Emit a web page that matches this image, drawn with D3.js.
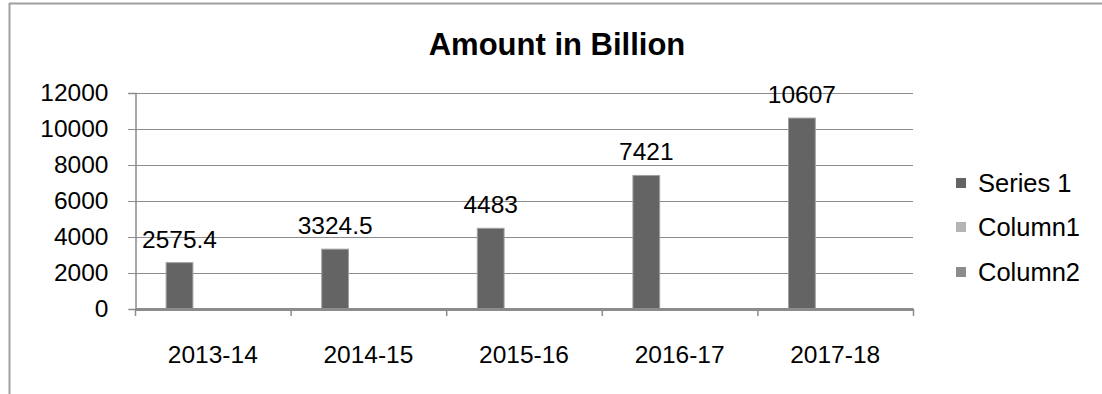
<!DOCTYPE html>
<html>
<head>
<meta charset="utf-8">
<script src="https://cdn.jsdelivr.net/npm/d3@7"></script>
<style>
  html, body { margin: 0; padding: 0; background: #fff; }
  svg { display: block; font-family: "Liberation Sans", Arial, sans-serif; }
</style>
</head>
<body>
<svg id="chart" width="1102" height="394"></svg>
<script>
// Chart data
const categories = ["2013-14", "2014-15", "2015-16", "2016-17", "2017-18"];
const series1 = [2575.4, 3324.5, 4483, 7421, 10607];
const legendNames = ["Series 1", "Column1", "Column2"];
const legendColors = ["#646464", "#b4b4b4", "#8c8c8c"];
const yTicks = [0, 2000, 4000, 6000, 8000, 10000, 12000];

const svg = d3.select("#chart");

// Outer frame (top and left edges visible)
svg.append("line").attr("x1", 9).attr("x2", 1102).attr("y1", 3.5).attr("y2", 3.5)
  .attr("stroke", "#a0a0a0").attr("stroke-width", 2);
svg.append("line").attr("x1", 9.5).attr("x2", 9.5).attr("y1", 3).attr("y2", 394)
  .attr("stroke", "#a0a0a0").attr("stroke-width", 2);

// Title
svg.append("text").attr("x", 557).attr("y", 55).attr("text-anchor", "middle")
  .attr("font-size", 31).attr("font-weight", "bold").attr("fill", "#000")
  .text("Amount in Billion");

const plot = { left: 135, right: 913, top: 93, bottom: 309 };

const x = d3.scaleBand().domain(categories).range([plot.left, plot.right]).padding(0);
const y = d3.scaleLinear().domain([0, 12000]).range([plot.bottom, plot.top]);

// Gridlines
svg.append("g").selectAll("line").data(yTicks.filter(d => d > 0)).join("line")
  .attr("x1", plot.left - 7).attr("x2", plot.right)
  .attr("y1", d => Math.round(y(d)) + 0.5).attr("y2", d => Math.round(y(d)) + 0.5)
  .attr("stroke", "#8c8c8c").attr("stroke-width", 1);

// Y axis
const yAxis = d3.axisLeft(y).tickValues(yTicks).tickFormat(d3.format("d")).tickSize(7).tickPadding(20);
const gy = svg.append("g").attr("transform", `translate(${plot.left + 0.5},0)`).call(yAxis);
gy.select(".domain").attr("stroke", "#8c8c8c").attr("stroke-width", 1.5);
gy.selectAll(".tick line").attr("stroke", "#8c8c8c");
gy.selectAll(".tick text").attr("font-size", 24.5).attr("fill", "#000")
  .attr("font-family", "'Liberation Sans', Arial, sans-serif");

// Bars
svg.append("g").selectAll("rect").data(series1).join("rect")
  .attr("x", (d, i) => x(categories[i]) + x.bandwidth() * 0.2)
  .attr("width", x.bandwidth() * 0.172)
  .attr("y", d => y(d))
  .attr("height", d => plot.bottom - y(d))
  .attr("fill", "#646464").attr("stroke", "#a0a0a0").attr("stroke-width", 1);

// Data labels
svg.append("g").selectAll("text").data(series1).join("text")
  .attr("x", (d, i) => x(categories[i]) + x.bandwidth() * 0.286)
  .attr("y", d => y(d) - 15)
  .attr("text-anchor", "middle").attr("font-size", 24.5).attr("fill", "#000")
  .text(d => d);

// X axis
const xAxis = d3.axisBottom(x).tickSize(0).tickPadding(0);
const gx = svg.append("g").attr("transform", `translate(0,${plot.bottom})`).call(xAxis);
gx.select(".domain").attr("stroke", "#8c8c8c").attr("stroke-width", 3);
gx.selectAll(".tick text").attr("font-size", 24.5).attr("fill", "#000")
  .attr("y", 54).attr("dy", 0)
  .attr("font-family", "'Liberation Sans', Arial, sans-serif");
// Category boundary ticks
const bounds = categories.map(c => x(c)).concat([plot.right]);
svg.append("g").selectAll("line").data(bounds).join("line")
  .attr("x1", d => d + 0.5).attr("x2", d => d + 0.5)
  .attr("y1", plot.bottom).attr("y2", plot.bottom + 7)
  .attr("stroke", "#8c8c8c").attr("stroke-width", 1.5);

// Legend
const legendY = [183, 227, 272];
const lg = svg.append("g").selectAll("g").data(legendNames).join("g")
  .attr("transform", (d, i) => `translate(956,${legendY[i]})`);
lg.append("rect").attr("x", 0).attr("y", -5).attr("width", 10).attr("height", 10)
  .attr("fill", (d, i) => legendColors[i]);
lg.append("text").attr("x", 22).attr("y", 9).attr("font-size", 25.5).attr("fill", "#000")
  .text(d => d);
</script>
</body>
</html>
